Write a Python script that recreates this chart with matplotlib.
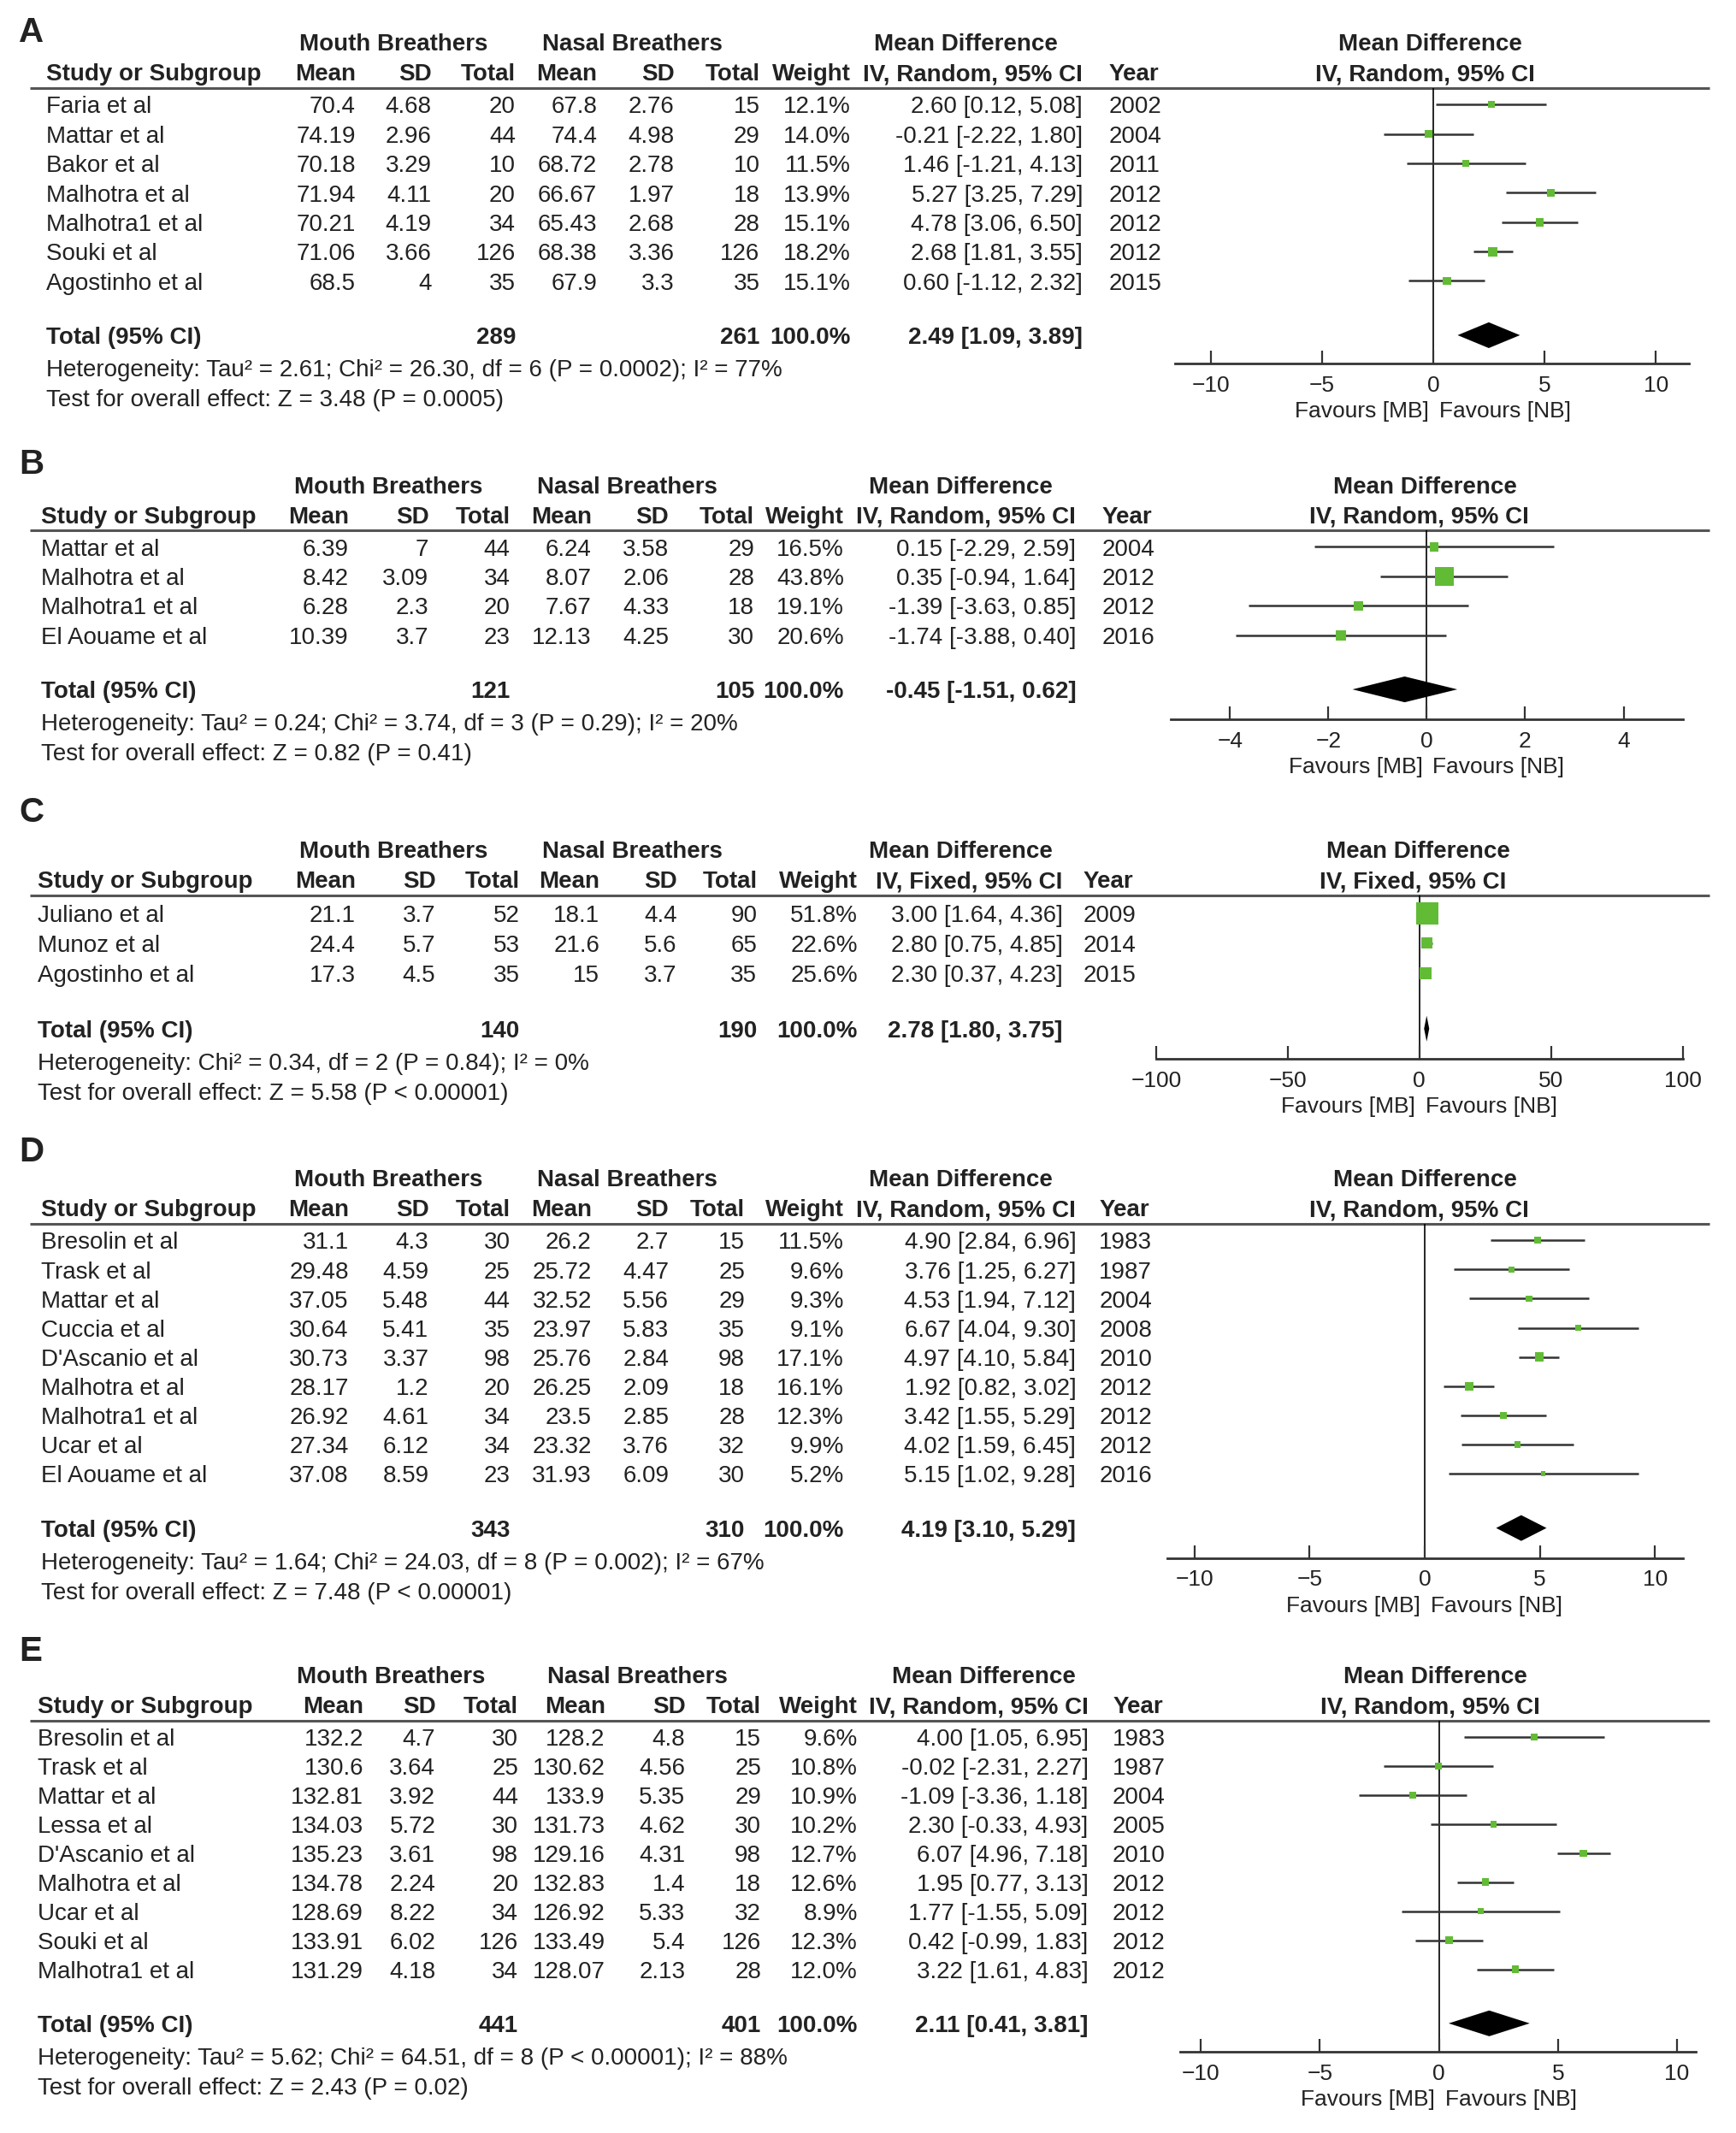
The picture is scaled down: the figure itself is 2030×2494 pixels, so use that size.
import matplotlib
matplotlib.use('Agg')
import matplotlib.pyplot as plt
from matplotlib import font_manager

# layout units: the reference at 1280 px wide
W = 1280
H = 1280 * 2494 / 2031
PX = 2031 / 1280

fams = set(f.name for f in font_manager.fontManager.ttflist)
plt.rcParams['font.family'] = ['Liberation Sans' if 'Liberation Sans' in fams else 'DejaVu Sans']
FS = 20
TXT = '#222222'
GREEN = '#62bb35'

# ---------------- A ----------------
a_study = ['Faria et al', 'Mattar et al', 'Bakor et al', 'Malhotra et al', 'Malhotra1 et al', 'Souki et al', 'Agostinho et al']
a_mb_mean = ['70.4', '74.19', '70.18', '71.94', '70.21', '71.06', '68.5']
a_mb_sd = ['4.68', '2.96', '3.29', '4.11', '4.19', '3.66', '4']
a_mb_n = [20, 44, 10, 20, 34, 126, 35]
a_nb_mean = ['67.8', '74.4', '68.72', '66.67', '65.43', '68.38', '67.9']
a_nb_sd = ['2.76', '4.98', '2.78', '1.97', '2.68', '3.36', '3.3']
a_nb_n = [15, 29, 10, 18, 28, 126, 35]
a_weight = [12.1, 14.0, 11.5, 13.9, 15.1, 18.2, 15.1]
a_md = [2.60, -0.21, 1.46, 5.27, 4.78, 2.68, 0.60]
a_lo = [0.12, -2.22, -1.21, 3.25, 3.06, 1.81, -1.12]
a_hi = [5.08, 1.80, 4.13, 7.29, 6.50, 3.55, 2.32]
a_year = [2002, 2004, 2011, 2012, 2012, 2012, 2015]
a_total = (289, 261, 2.49, 1.09, 3.89)
a_het = 'Heterogeneity: Tau² = 2.61; Chi² = 26.30, df = 6 (P = 0.0002); I² = 77%'
a_test = 'Test for overall effect: Z = 3.48 (P = 0.0005)'

# ---------------- B ----------------
b_study = ['Mattar et al', 'Malhotra et al', 'Malhotra1 et al', 'El Aouame et al']
b_mb_mean = ['6.39', '8.42', '6.28', '10.39']
b_mb_sd = ['7', '3.09', '2.3', '3.7']
b_mb_n = [44, 34, 20, 23]
b_nb_mean = ['6.24', '8.07', '7.67', '12.13']
b_nb_sd = ['3.58', '2.06', '4.33', '4.25']
b_nb_n = [29, 28, 18, 30]
b_weight = [16.5, 43.8, 19.1, 20.6]
b_md = [0.15, 0.35, -1.39, -1.74]
b_lo = [-2.29, -0.94, -3.63, -3.88]
b_hi = [2.59, 1.64, 0.85, 0.40]
b_year = [2004, 2012, 2012, 2016]
b_total = (121, 105, -0.45, -1.51, 0.62)
b_het = 'Heterogeneity: Tau² = 0.24; Chi² = 3.74, df = 3 (P = 0.29); I² = 20%'
b_test = 'Test for overall effect: Z = 0.82 (P = 0.41)'

# ---------------- C ----------------
c_study = ['Juliano et al', 'Munoz et al', 'Agostinho et al']
c_mb_mean = ['21.1', '24.4', '17.3']
c_mb_sd = ['3.7', '5.7', '4.5']
c_mb_n = [52, 53, 35]
c_nb_mean = ['18.1', '21.6', '15']
c_nb_sd = ['4.4', '5.6', '3.7']
c_nb_n = [90, 65, 35]
c_weight = [51.8, 22.6, 25.6]
c_md = [3.00, 2.80, 2.30]
c_lo = [1.64, 0.75, 0.37]
c_hi = [4.36, 4.85, 4.23]
c_year = [2009, 2014, 2015]
c_total = (140, 190, 2.78, 1.80, 3.75)
c_het = 'Heterogeneity: Chi² = 0.34, df = 2 (P = 0.84); I² = 0%'
c_test = 'Test for overall effect: Z = 5.58 (P < 0.00001)'

# ---------------- D ----------------
d_study = ['Bresolin et al', 'Trask et al', 'Mattar et al', 'Cuccia et al', "D'Ascanio et al",
           'Malhotra et al', 'Malhotra1 et al', 'Ucar et al', 'El Aouame et al']
d_mb_mean = ['31.1', '29.48', '37.05', '30.64', '30.73', '28.17', '26.92', '27.34', '37.08']
d_mb_sd = ['4.3', '4.59', '5.48', '5.41', '3.37', '1.2', '4.61', '6.12', '8.59']
d_mb_n = [30, 25, 44, 35, 98, 20, 34, 34, 23]
d_nb_mean = ['26.2', '25.72', '32.52', '23.97', '25.76', '26.25', '23.5', '23.32', '31.93']
d_nb_sd = ['2.7', '4.47', '5.56', '5.83', '2.84', '2.09', '2.85', '3.76', '6.09']
d_nb_n = [15, 25, 29, 35, 98, 18, 28, 32, 30]
d_weight = [11.5, 9.6, 9.3, 9.1, 17.1, 16.1, 12.3, 9.9, 5.2]
d_md = [4.90, 3.76, 4.53, 6.67, 4.97, 1.92, 3.42, 4.02, 5.15]
d_lo = [2.84, 1.25, 1.94, 4.04, 4.10, 0.82, 1.55, 1.59, 1.02]
d_hi = [6.96, 6.27, 7.12, 9.30, 5.84, 3.02, 5.29, 6.45, 9.28]
d_year = [1983, 1987, 2004, 2008, 2010, 2012, 2012, 2012, 2016]
d_total = (343, 310, 4.19, 3.10, 5.29)
d_het = 'Heterogeneity: Tau² = 1.64; Chi² = 24.03, df = 8 (P = 0.002); I² = 67%'
d_test = 'Test for overall effect: Z = 7.48 (P < 0.00001)'

# ---------------- E ----------------
e_study = ['Bresolin et al', 'Trask et al', 'Mattar et al', 'Lessa et al', "D'Ascanio et al",
           'Malhotra et al', 'Ucar et al', 'Souki et al', 'Malhotra1 et al']
e_mb_mean = ['132.2', '130.6', '132.81', '134.03', '135.23', '134.78', '128.69', '133.91', '131.29']
e_mb_sd = ['4.7', '3.64', '3.92', '5.72', '3.61', '2.24', '8.22', '6.02', '4.18']
e_mb_n = [30, 25, 44, 30, 98, 20, 34, 126, 34]
e_nb_mean = ['128.2', '130.62', '133.9', '131.73', '129.16', '132.83', '126.92', '133.49', '128.07']
e_nb_sd = ['4.8', '4.56', '5.35', '4.62', '4.31', '1.4', '5.33', '5.4', '2.13']
e_nb_n = [15, 25, 29, 30, 98, 18, 32, 126, 28]
e_weight = [9.6, 10.8, 10.9, 10.2, 12.7, 12.6, 8.9, 12.3, 12.0]
e_md = [4.00, -0.02, -1.09, 2.30, 6.07, 1.95, 1.77, 0.42, 3.22]
e_lo = [1.05, -2.31, -3.36, -0.33, 4.96, 0.77, -1.55, -0.99, 1.61]
e_hi = [6.95, 2.27, 1.18, 4.93, 7.18, 3.13, 5.09, 1.83, 4.83]
e_year = [1983, 1987, 2004, 2005, 2010, 2012, 2012, 2012, 2012]
e_total = (441, 401, 2.11, 0.41, 3.81)
e_het = 'Heterogeneity: Tau² = 5.62; Chi² = 64.51, df = 8 (P < 0.00001); I² = 88%'
e_test = 'Test for overall effect: Z = 2.43 (P = 0.02)'

panels = [
    dict(label='A', data=(a_study, a_mb_mean, a_mb_sd, a_mb_n, a_nb_mean, a_nb_sd, a_nb_n,
                          a_weight, a_md, a_lo, a_hi, a_year, a_total, a_het, a_test),
         method='IV, Random, 95% CI', ly=22, rule=65, first=77, dy=21.67, tot=247, axis=268,
         sx=34, cols=[262, 318, 380, 440, 497, 560, 627, 798], yx=817,
         centers=[290, 466, 712, 1054], xlim=(-11.6, 11.5), px=(866, 1245), ticks=[-10, -5, 0, 5, 10]),
    dict(label='B', data=(b_study, b_mb_mean, b_mb_sd, b_mb_n, b_nb_mean, b_nb_sd, b_nb_n,
                          b_weight, b_md, b_lo, b_hi, b_year, b_total, b_het, b_test),
         method='IV, Random, 95% CI', ly=340, rule=391, first=403, dy=21.67, tot=508, axis=530,
         sx=30, cols=[257, 316, 376, 436, 493, 556, 622, 793], yx=812,
         centers=[286, 462, 708, 1050], xlim=(-5.2, 5.2), px=(863, 1240), ticks=[-4, -2, 0, 2, 4]),
    dict(label='C', data=(c_study, c_mb_mean, c_mb_sd, c_mb_n, c_nb_mean, c_nb_sd, c_nb_n,
                          c_weight, c_md, c_lo, c_hi, c_year, c_total, c_het, c_test),
         method='IV, Fixed, 95% CI', ly=597, rule=660, first=673, dy=22, tot=758, axis=780,
         sx=28, cols=[262, 321, 383, 442, 499, 558, 632, 783], yx=798,
         centers=[290, 466, 708, 1045], xlim=(-100, 100), px=(852, 1240), ticks=[-100, -50, 0, 50, 100]),
    dict(label='D', data=(d_study, d_mb_mean, d_mb_sd, d_mb_n, d_nb_mean, d_nb_sd, d_nb_n,
                          d_weight, d_md, d_lo, d_hi, d_year, d_total, d_het, d_test),
         method='IV, Random, 95% CI', ly=847, rule=902, first=914, dy=21.5, tot=1126, axis=1148,
         sx=30, cols=[257, 316, 376, 436, 493, 549, 622, 793], yx=810,
         centers=[286, 462, 708, 1050], xlim=(-11.2, 11.2), px=(860, 1240), ticks=[-10, -5, 0, 5, 10]),
    dict(label='E', data=(e_study, e_mb_mean, e_mb_sd, e_mb_n, e_nb_mean, e_nb_sd, e_nb_n,
                          e_weight, e_md, e_lo, e_hi, e_year, e_total, e_het, e_test),
         method='IV, Random, 95% CI', ly=1215, rule=1268, first=1280, dy=21.4, tot=1491, axis=1512,
         sx=28, cols=[268, 321, 382, 446, 505, 561, 632, 802], yx=820,
         centers=[288, 470, 725, 1058], xlim=(-10.85, 10.8), px=(870, 1250), ticks=[-10, -5, 0, 5, 10]),
]

fig = plt.figure(figsize=(20.31, 24.94), dpi=100)
bg = fig.add_axes([0, 0, 1, 1])
bg.set_xlim(0, W)
bg.set_ylim(H, 0)
bg.axis('off')

DY = 2  # text sits a touch lower than the bbox centre


def t(x, y, s, ha='left', bold=False, size=FS):
    bg.text(x, y + DY, s, ha=ha, va='center', fontsize=size, color=TXT,
            fontweight='bold' if bold else 'normal')


for p in panels:
    (study, mbm, mbs, mbn, nbm, nbs, nbn, wt, md, lo, hi, year, total, het, test) = p['data']
    cols, rule, first, dy = p['cols'], p['rule'], p['first'], p['dy']
    h2 = rule - 12
    h1 = h2 - 22

    t(14, p['ly'], p['label'], bold=True, size=29)
    for cx, s in zip(p['centers'], ['Mouth Breathers', 'Nasal Breathers', 'Mean Difference', 'Mean Difference']):
        t(cx, h1, s, ha='center', bold=True)
    t(p['sx'], h2, 'Study or Subgroup', bold=True)
    for cx, s in zip(cols, ['Mean', 'SD', 'Total', 'Mean', 'SD', 'Total', 'Weight', p['method']]):
        t(cx, h2, s, ha='right', bold=True)
    t(p['yx'], h2, 'Year', bold=True)
    t(p['centers'][3] - 4, h2, p['method'], ha='center', bold=True)
    bg.plot([22, 1260], [rule, rule], color='#555555', lw=2.2, solid_capstyle='butt')

    for i in range(len(study)):
        y = first + i * dy
        t(p['sx'], y, study[i])
        vals = [mbm[i], mbs[i], str(mbn[i]), nbm[i], nbs[i], str(nbn[i]), f'{wt[i]:.1f}%',
                f'{md[i]:.2f} [{lo[i]:.2f}, {hi[i]:.2f}]']
        for cx, s in zip(cols, vals):
            t(cx, y, s, ha='right')
        t(p['yx'], y, str(year[i]))

    n_mb, n_nb, tmd, tlo, thi = total
    ty = p['tot']
    t(p['sx'], ty, 'Total (95% CI)', bold=True)
    t(cols[2], ty, str(n_mb), ha='right', bold=True)
    t(cols[5], ty, str(n_nb), ha='right', bold=True)
    t(cols[6], ty, '100.0%', ha='right', bold=True)
    t(cols[7], ty, f'{tmd:.2f} [{tlo:.2f}, {thi:.2f}]', ha='right', bold=True)
    t(p['sx'], ty + 24, het)
    t(p['sx'], ty + 46, test)

    # forest panel
    x0, x1 = p['px']
    ax = fig.add_axes([x0 / W, 1 - p['axis'] / H, (x1 - x0) / W, (p['axis'] - rule) / H])
    ax.patch.set_alpha(0)
    ax.set_xlim(*p['xlim'])
    ax.set_ylim((p['axis'] - first) / dy, (rule - first) / dy)
    for s in ['top', 'left', 'right']:
        ax.spines[s].set_visible(False)
    ax.spines['bottom'].set_linewidth(2.0)
    ax.spines['bottom'].set_color('#333333')
    ax.set_yticks([])
    ax.set_xticks(p['ticks'])
    ax.tick_params(axis='x', direction='in', length=11, width=1.6, pad=10,
                   labelsize=19, colors='#333333', labelcolor=TXT)
    ax.axvline(0, color='black', lw=1.2, zorder=1)

    rows = list(range(len(study)))
    ax.hlines(rows, lo, hi, color='#333333', lw=1.8, zorder=2)
    side = [(2 + 0.27 * w) * PX * 0.72 for w in wt]
    ax.scatter(md, rows, marker='s', s=[sd ** 2 for sd in side], color=GREEN, lw=0, zorder=3)

    yt = (ty - first) / dy
    hh = 9.5 / dy
    ax.fill([tlo, tmd, thi, tmd], [yt, yt - hh, yt, yt + hh], color='black', lw=0, zorder=3)

    ax.annotate('Favours [MB]', xy=(0, 0), xycoords=('data', 'axes fraction'), xytext=(-5, -56),
                textcoords='offset pixels', ha='right', va='center', fontsize=19, color=TXT)
    ax.annotate('Favours [NB]', xy=(0, 0), xycoords=('data', 'axes fraction'), xytext=(7, -56),
                textcoords='offset pixels', ha='left', va='center', fontsize=19, color=TXT)

fig.savefig('out.png', dpi=100)
